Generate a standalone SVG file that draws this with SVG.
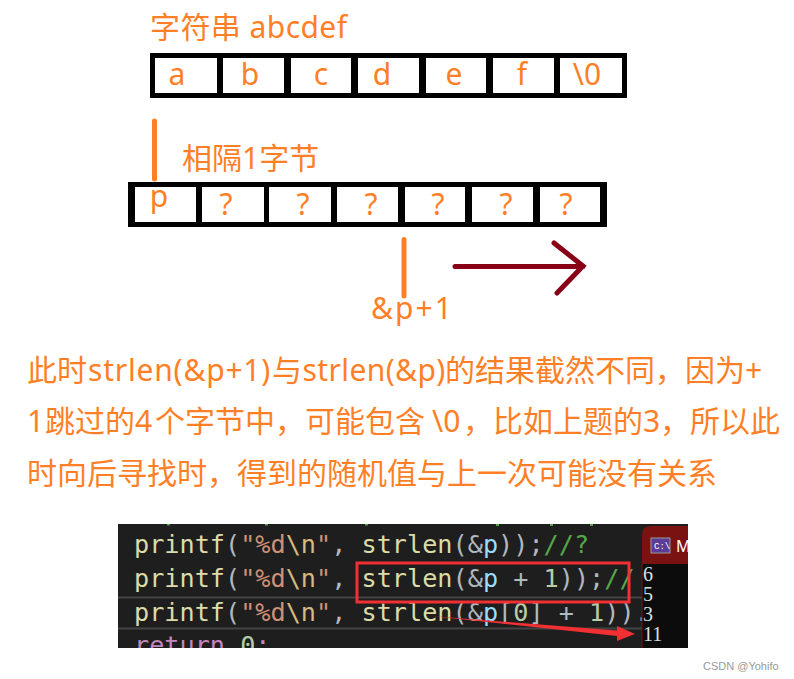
<svg xmlns="http://www.w3.org/2000/svg" width="794" height="679" viewBox="0 0 794 679">
<style>
.o{fill:#ff7f27;font-family:"Noto Sans","Noto Sans CJK SC",sans-serif}
.c{font-size:30px;text-anchor:middle}
.t{font-size:30px}
.z{letter-spacing:.8px}
.y{letter-spacing:.4px}
.k{fill:#000}
.w{fill:#fff}
.m{font-family:"DejaVu Sans Mono","Liberation Mono",monospace;font-size:25.2px}
.d{fill:#dcdcaa}.b{fill:#b0b8c0}.s{fill:#ce9178}.e{fill:#d7ba7d}.v{fill:#9cdcfe}.n{fill:#b5cea8}.g{fill:#57a64a}
.l{fill:#d8e0e8;font-family:"Liberation Serif",serif;font-size:20px}
</style>
<rect width="794" height="679" fill="#fff"/>
<g id="title"><text class="o" x="150" y="38" font-size="30" textLength="197" lengthAdjust="spacing">字符串 abcdef</text></g>
<g id="row1">
<rect class="k" x="150" y="53" width="477" height="45"/>
<rect class="w" x="155" y="58" width="62" height="35"/><rect class="w" x="223" y="58" width="61" height="35"/><rect class="w" x="291" y="58" width="60" height="35"/><rect class="w" x="358" y="58" width="61" height="35"/><rect class="w" x="426" y="58" width="60" height="35"/><rect class="w" x="493" y="58" width="61" height="35"/><rect class="w" x="560" y="58" width="62" height="35"/>
<text class="o c" x="177" y="85">a</text><text class="o c" x="250" y="85">b</text><text class="o c" x="321" y="85">c</text><text class="o c" x="382" y="85">d</text><text class="o c" x="454" y="85">e</text><text class="o c" x="522" y="85">f</text><text class="o c" x="587" y="85">\0</text>
</g>
<g id="label-gap"><text class="o" x="182" y="169" font-size="30">相隔1字节</text></g>
<g id="row2">
<rect class="k" x="128" y="182" width="479" height="45"/>
<rect class="w" x="135" y="187" width="61" height="35"/><rect class="w" x="202" y="187" width="62" height="35"/><rect class="w" x="269" y="187" width="62" height="35"/><rect class="w" x="337" y="187" width="61" height="35"/><rect class="w" x="405" y="187" width="60" height="35"/><rect class="w" x="472" y="187" width="61" height="35"/><rect class="w" x="540" y="187" width="60" height="35"/>
<text class="o c" x="159" y="207">p</text><text class="o c" x="226" y="215">?</text><text class="o c" x="303" y="215">?</text><text class="o c" x="371" y="215">?</text><text class="o c" x="438" y="215">?</text><text class="o c" x="506" y="215">?</text><text class="o c" x="566" y="215">?</text>
</g>
<g id="label-p1"><text class="o" x="371" y="319" font-size="30" textLength="81" lengthAdjust="spacing">&amp;p+1</text></g>
<g id="connectors" fill="none" stroke-linecap="round">
<path d="M154.500 121V179M404 239.500V296" stroke="#ff7f27" stroke-width="5"/>
<path d="M455 266.500H583M554 243L583 266L557 293" stroke="#880015" stroke-width="5"/>
</g>
<g id="paragraph">
<text class="o t" y="381"><tspan x="27">此时</tspan><tspan x="88" class="z">strlen(&amp;p+1)</tspan><tspan x="272">与</tspan><tspan x="302.500" class="y">strlen(&amp;p)</tspan><tspan x="445">的结果截然不同&#xFF0C;因为</tspan><tspan x="745">+</tspan></text>
<text class="o t" y="432"><tspan x="27">1</tspan><tspan x="45">跳过的</tspan><tspan x="135">4</tspan><tspan x="155">个字节中&#xFF0C;可能包含</tspan><tspan x="432">\0</tspan><tspan x="463">&#xFF0C;比如上题的</tspan><tspan x="643">3</tspan><tspan x="660">&#xFF0C;所以此</tspan></text>
<text class="o t" x="27" y="484">时向后寻找时&#xFF0C;得到的随机值与上一次可能没有关系</text>
</g>
<g id="screenshot">
<rect x="118" y="524" width="570" height="124" fill="#1e1e1e"/>
<path d="M118 597.500H642M118 628.500H642" stroke="#444" stroke-width="2"/>
<path d="M167 524h3v1.500h-3zM265 524h3v1.500h-3zM365 524h3v1.500h-3zM496 524h3v2h-3zM550 524h3v2h-3zM590 524h3v2h-3z" fill="#57a64a"/>
<text class="m" y="553" x="134"><tspan class="d">printf</tspan><tspan class="b">(</tspan><tspan class="s">"%d</tspan><tspan class="e">\n</tspan><tspan class="s">"</tspan><tspan class="b">, </tspan><tspan class="d">strlen</tspan><tspan class="b">(&amp;</tspan><tspan class="v">p</tspan><tspan class="b">));</tspan><tspan class="g">//?</tspan></text>
<text class="m" y="587" x="134"><tspan class="d">printf</tspan><tspan class="b">(</tspan><tspan class="s">"%d</tspan><tspan class="e">\n</tspan><tspan class="s">"</tspan><tspan class="b">, </tspan><tspan class="d">strlen</tspan><tspan class="b">(&amp;</tspan><tspan class="v">p</tspan><tspan class="b"> + </tspan><tspan class="n">1</tspan><tspan class="b">));</tspan><tspan class="g">//</tspan></text>
<text class="m" y="621" x="134"><tspan class="d">printf</tspan><tspan class="b">(</tspan><tspan class="s">"%d</tspan><tspan class="e">\n</tspan><tspan class="s">"</tspan><tspan class="b">, </tspan><tspan class="d">strlen</tspan><tspan class="b">(&amp;</tspan><tspan class="v">p</tspan><tspan class="b">[</tspan><tspan class="n">0</tspan><tspan class="b">] + </tspan><tspan class="n">1</tspan><tspan class="b">)).</tspan></text>
<svg x="118" y="524" width="524" height="124" viewBox="118 524 524 124"><text class="m" y="654" x="134" fill="#c586c0">return <tspan class="n">0</tspan>;</text></svg>
<path d="M642 648V535Q642 526 651 526H688V564H642Z" fill="#7a1212"/>
<rect x="642" y="564" width="46" height="84" fill="#0c0c0c"/>
<path d="M642 564V648" stroke="#7a1212"/>
<rect x="651" y="538" width="19" height="15" fill="#5c3c98" stroke="#999"/>
<text x="654" y="549" fill="#fff" font-family="Liberation Mono,monospace" font-size="9">C:\</text>
<text x="676" y="552" fill="#fff" font-family="Noto Sans,sans-serif" font-size="16">M</text>
<text class="l"><tspan x="643" y="581">6</tspan><tspan x="643" y="601">5</tspan><tspan x="643" y="621">3</tspan><tspan x="643" y="641">11</tspan></text>
<rect x="357" y="563" width="272" height="39" fill="none" stroke="#f03033" stroke-width="3"/>
<path d="M431 616L617 630.500L617 626L635 634L617 641L617 636Z" fill="#f03033"/>
</g>
<g id="watermark"><text x="703" y="670" fill="#999" font-family="Liberation Sans,sans-serif" font-size="11">CSDN @Yohifo</text></g>
</svg>
